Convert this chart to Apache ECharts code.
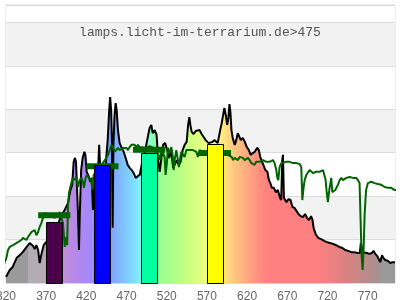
<!DOCTYPE html>
<html><head><meta charset="utf-8">
<script src="https://cdn.jsdelivr.net/npm/echarts@6/dist/echarts.min.js"></script>
<style>html,body{margin:0;padding:0;background:#fff}#c{width:400px;height:300px}</style>
</head><body><div id="c"></div>
<script>
const titleText = 'lamps.licht-im-terrarium.de>475';
const xTicks = { min: 320, max: 804, step: 50 };
const yRange = { min: 0, max: 6.4, step: 1 };

// lamp spectrum [nm, relative value]
const spectrum = [[320,0.14],[322,0.12],[324.6,0.30],[328.3,0.37],[333.3,0.58],[337,0.64],[340.8,0.71],[345.7,0.83],[349.5,0.92],[351.6,0.95],[353.8,0.85],[355.7,0.78],[357.8,0.87],[360,0.76],[361.9,0.46],[364.4,0.69],[366.9,0.87],[371.9,0.99],[378,1.1],[384.3,1.34],[389.3,1.57],[390.5,1.57],[393,1.68],[397.1,1.84],[399.9,2.12],[402.3,2.26],[404.2,2.79],[405.8,2.88],[407.1,2.79],[407.9,2.42],[409.6,1.57],[410.8,0.76],[411.7,1.50],[413.5,2.60],[415.4,2.88],[417.5,3.02],[418.8,2.95],[420.4,2.56],[422.9,2.46],[424.7,2.33],[426.6,2.42],[428.2,1.68],[429.1,2.37],[431.6,2.49],[434.7,2.65],[435.9,3.18],[437.2,2.65],[440.3,2.56],[444,2.72],[446.5,3.29],[448.4,3.98],[449.6,4.28],[450.8,3.98],[451.8,3.29],[452.7,1.27],[453.6,3.18],[455.1,3.87],[456.4,4.14],[457.7,3.98],[459.3,3.52],[461.4,3.22],[463.9,3.11],[466.4,3.02],[468.9,2.88],[471.4,2.72],[473.9,2.65],[476.4,2.60],[478.9,2.53],[481.4,2.42],[483.9,2.46],[486.4,2.49],[488.8,2.72],[493.8,3.11],[496.2,3.34],[498.7,3.57],[500.8,3.64],[502.5,3.45],[505,3.52],[507.4,3.41],[509.3,2.83],[511.2,2.56],[513,2.83],[515.5,3.18],[518,3.22],[520.5,3.06],[523,2.88],[525.5,3.06],[528,2.65],[529.8,2.72],[532.3,2.83],[534.8,2.72],[537.3,2.79],[539.8,3.06],[542.3,3.18],[544.8,3.25],[546.6,3.64],[548.1,3.82],[549.4,3.64],[551,3.48],[553.5,3.43],[556,3.50],[558.4,3.52],[560.9,3.52],[563.4,3.43],[565.9,3.36],[568.4,3.29],[572.1,3.22],[577.1,3.25],[579.6,3.29],[583.4,3.22],[586.5,3.52],[588.4,3.68],[590.2,3.87],[591.7,4.03],[593.4,3.87],[595.2,3.64],[596.7,3.80],[598,4.12],[599.2,3.94],[600.5,3.52],[602.1,3.34],[604.6,3.18],[606.5,3.29],[608.4,3.45],[610.2,3.48],[612.1,3.29],[614.6,3.34],[617.1,3.25],[619.6,3.13],[622.1,3.06],[624.5,2.95],[627,2.99],[629.5,3.02],[632.7,3.11],[634.6,3.06],[636.4,2.90],[638.3,2.88],[640.2,2.72],[642.7,2.60],[645.2,2.56],[647.1,2.37],[648.9,2.30],[650.8,2.19],[653.3,2.19],[655.8,2.09],[658.3,2.14],[660.8,1.96],[662.4,1.91],[663.7,2.83],[664.6,2.95],[665.8,1.96],[668.9,1.86],[671.5,1.93],[674,1.91],[676.4,1.75],[678.9,1.73],[681.4,1.66],[683.9,1.59],[686.5,1.54],[689.6,1.52],[692.1,1.59],[694.5,1.50],[697,1.45],[699.6,1.54],[701.4,1.45],[702.7,1.27],[705.2,1.13],[708.3,1.04],[712.1,1.01],[715.8,0.97],[719.6,0.94],[723.3,0.92],[727.1,0.90],[730.8,0.87],[734.6,0.83],[738.3,0.81],[742.1,0.76],[745.8,0.74],[749.6,0.71],[753.3,0.71],[757.1,0.69],[760.2,0.69],[761.5,0.92],[762.7,0.94],[764,0.71],[765.8,0.67],[768.9,0.69],[772,0.67],[775.3,0.69],[777.3,0.74],[779.4,0.67],[781.9,0.62],[784.4,0.53],[785.6,0.48],[787.8,0.64],[789.4,0.58],[791.9,0.53],[795,0.51],[798.1,0.46],[801.2,0.48],[804,0.48]];

// reference (sun) spectrum [nm, relative value]
const sun = [[312,0.30],[316.3,0.38],[318.4,0.48],[320.5,0.58],[322.5,0.76],[324.6,0.83],[328.7,0.87],[330.8,0.83],[334.9,0.94],[339.2,0.99],[341.1,1.04],[345.4,0.99],[347.4,1.06],[349.5,1.10],[351.6,1.17],[353.6,1.15],[355.7,1.22],[357.8,1.10],[359.8,1.17],[361.9,1.29],[364,1.38],[366,1.50],[368.1,1.61],[374.4,1.57],[380.6,1.50],[386.8,1.63],[390.9,1.38],[393,0.83],[395.1,1.06],[396.1,0.87],[397.1,1.75],[398.3,2.07],[400.1,2.21],[401.3,2.30],[403.3,2.42],[405.4,2.37],[407.6,2.44],[409.6,2.21],[411.7,2.37],[413.8,2.42],[415.8,2.33],[417,2.19],[419.1,2.42],[420.7,2.49],[423.2,2.42],[425,2.44],[426.2,2.33],[427.5,2.14],[429.1,2.49],[434,2.60],[439,2.72],[444.9,2.88],[446.9,2.95],[449,3.06],[451.1,3.18],[453.1,3.13],[455.2,3.02],[457.3,3.06],[459.3,3.11],[461.4,3.06],[463.5,3.06],[465.5,3.11],[467.6,3.13],[469.8,3.11],[471.7,3.06],[473.9,3.13],[476,3.18],[478,3.18],[480.1,3.18],[482.2,3.13],[484.2,3.18],[486.3,3.13],[488.4,3.13],[493.7,3.11],[498.7,3.15],[503.7,3.11],[508.7,3.02],[511.2,2.83],[513.7,3.06],[517.4,2.90],[518.6,2.49],[520.3,2.79],[521.5,3.11],[523.6,2.99],[525.7,3.13],[527.7,2.90],[528.6,2.60],[529.8,2.83],[531.9,3.06],[533.9,2.83],[535.2,2.67],[536.9,2.90],[538.2,3.02],[540.2,2.99],[542.3,2.90],[544.4,3.06],[546.4,3.02],[548.5,3.06],[550.6,3.02],[552.6,3.06],[554.7,3.02],[556.8,3.02],[558.8,2.90],[560.9,3.06],[567.1,2.99],[575.8,2.99],[585.7,2.97],[595.7,2.95],[601.1,2.90],[602.3,2.83],[604.4,2.88],[606.6,2.90],[608.6,2.83],[610.7,2.90],[612.8,2.88],[614.8,2.88],[616.9,2.83],[619,2.79],[621,2.88],[623.1,2.83],[625.2,2.76],[627.2,2.79],[629.3,2.72],[631.4,2.79],[633.4,2.76],[635.5,2.79],[639.6,2.83],[643.9,2.79],[648,2.79],[650.1,2.76],[652.1,2.83],[654.2,2.76],[656.3,2.60],[657.6,2.42],[658.8,2.37],[660.4,2.67],[662.5,2.76],[664.5,2.72],[668.8,2.79],[672.9,2.79],[677,2.76],[681.2,2.76],[685.3,2.74],[687.4,2.67],[688.7,1.91],[690.3,2.21],[691.6,2.37],[693.7,2.49],[695.7,2.53],[697.8,2.60],[699.9,2.56],[701.9,2.53],[706.1,2.56],[710.2,2.56],[714.4,2.60],[716.5,2.56],[717.7,2.37],[719,2.09],[720.5,1.86],[722.6,2.19],[724.7,2.42],[726,2.09],[727.6,2.09],[729.7,2.14],[731,2.19],[733,2.26],[735.1,2.37],[737.2,2.42],[739.2,2.37],[741.3,2.37],[743.4,2.42],[747.5,2.44],[751.6,2.42],[755.8,2.42],[757.8,2.37],[759.9,2.30],[761.2,1.45],[762.4,0.64],[763.7,0.30],[764.9,0.76],[766.2,1.57],[768,2.14],[770.3,2.30],[774.5,2.33],[778.6,2.30],[782.7,2.28],[787,2.26],[791.1,2.21],[795.2,2.19],[799.4,2.19],[803.5,2.14],[807,2.14]];

// band bars
const barStart = [370, 430, 488, 570];
const barEnd   = [390, 450, 508, 590];
const barValue = [1.41, 2.72, 3.0, 3.2];
// sun level markers per band
const markStart = [360, 420, 478, 560];
const markEnd   = [400, 460, 518, 600];
const markValue = [1.56, 2.69, 3.07, 2.99];

// styles
const barColors = ['#4b004b', '#0000ff', '#00ffa0', '#ffff00'];
const gradStops = [[320,'#9a9a9a'],[347,'#9a9a9a'],[347.5,'#b3adb3'],[369,'#b5a9b5'],[390,'#c48ed6'],[405,'#b888e8'],[420,'#a888f8'],[433,'#9890ff'],[450,'#80a0ff'],[465,'#80c0ff'],[480,'#80e0ff'],[492,'#80fff0'],[505,'#8fffa8'],[515,'#9dff90'],[530,'#b0ff88'],[545,'#c8ff80'],[560,'#e0ff80'],[575,'#f8ff80'],[590,'#ffe880'],[600,'#ffd080'],[612,'#ffb880'],[625,'#ffa080'],[638,'#ff8a80'],[645,'#ff8080'],[705,'#ff8080'],[730,'#e88080'],[755,'#cc8585'],[784,'#a89090'],[785,'#9a9a9a'],[804,'#9a9a9a']];

const chart = echarts.init(document.getElementById('c'), null, {renderer: 'canvas'});
const span = spectrum[spectrum.length-1][0] - spectrum[0][0];
const stops = gradStops.map(s => ({offset: Math.min(1, Math.max(0, (s[0] - spectrum[0][0]) / span)), color: s[1]}));

const barData = barStart.map((s, i) => [s, barEnd[i], barValue[i]]);
const markData = markStart.map((s, i) => [s, markEnd[i], markValue[i]]);

chart.setOption({
  animation: false,
  title: {
    text: titleText, left: 'center', top: 26, padding: 0,
    textStyle: {fontFamily: 'Liberation Mono', fontSize: 13, fontWeight: 'normal', color: '#555'}
  },
  grid: {left: 6, right: 5, top: 5, bottom: 17, containLabel: false, outerBoundsMode: 'none',
    show: true, borderColor: '#dcdcdc', borderWidth: 1, backgroundColor: '#fff'},
  xAxis: {
    type: 'value', min: xTicks.min, max: xTicks.max, interval: xTicks.step,
    axisLine: {show: false}, axisTick: {show: false}, splitLine: {show: false},
    axisLabel: {color: '#666', fontSize: 12, fontFamily: 'Liberation Sans', margin: 8,
      showMaxLabel: false, showMinLabel: true, alignMinLabel: 'center', hideOverlap: false}
  },
  yAxis: {
    type: 'value', min: yRange.min, max: yRange.max, interval: yRange.step,
    axisLabel: {show: false}, axisLine: {show: false}, axisTick: {show: false},
    splitLine: {lineStyle: {color: '#dcdcdc', width: 1}},
    splitArea: {show: true, areaStyle: {color: ['#ffffff', '#f2f2f2']}}
  },
  series: [
    {
      type: 'line', data: spectrum, symbol: 'none', showSymbol: false, z: 2,
      lineStyle: {color: '#000', width: 2},
      areaStyle: {opacity: 1, color: new echarts.graphic.LinearGradient(0, 0, 1, 0, stops)}
    },
    {
      type: 'line', data: sun, symbol: 'none', showSymbol: false, z: 3, clip: false,
      lineStyle: {color: '#006400', width: 2}
    },
    {
      type: 'custom', z: 4, data: markData,
      renderItem: function (params, api) {
        const a = api.coord([api.value(0), api.value(2)]);
        const b = api.coord([api.value(1), api.value(2)]);
        return {type: 'rect', shape: {x: a[0], y: a[1] - 3, width: b[0] - a[0], height: 6}, style: {fill: '#006400'}};
      }
    },
    {
      type: 'custom', z: 5, data: barData,
      renderItem: function (params, api) {
        const a = api.coord([api.value(0), api.value(2)]);
        const b = api.coord([api.value(1), 0]);
        return {type: 'rect', shape: {x: Math.round(a[0]) + 0.5, y: Math.round(a[1]) + 0.5, width: Math.round(b[0] - a[0]), height: Math.round(b[1] - a[1])},
          style: {fill: barColors[params.dataIndex], stroke: '#000', lineWidth: 1}};
      }
    }
  ]
});
</script></body></html>
